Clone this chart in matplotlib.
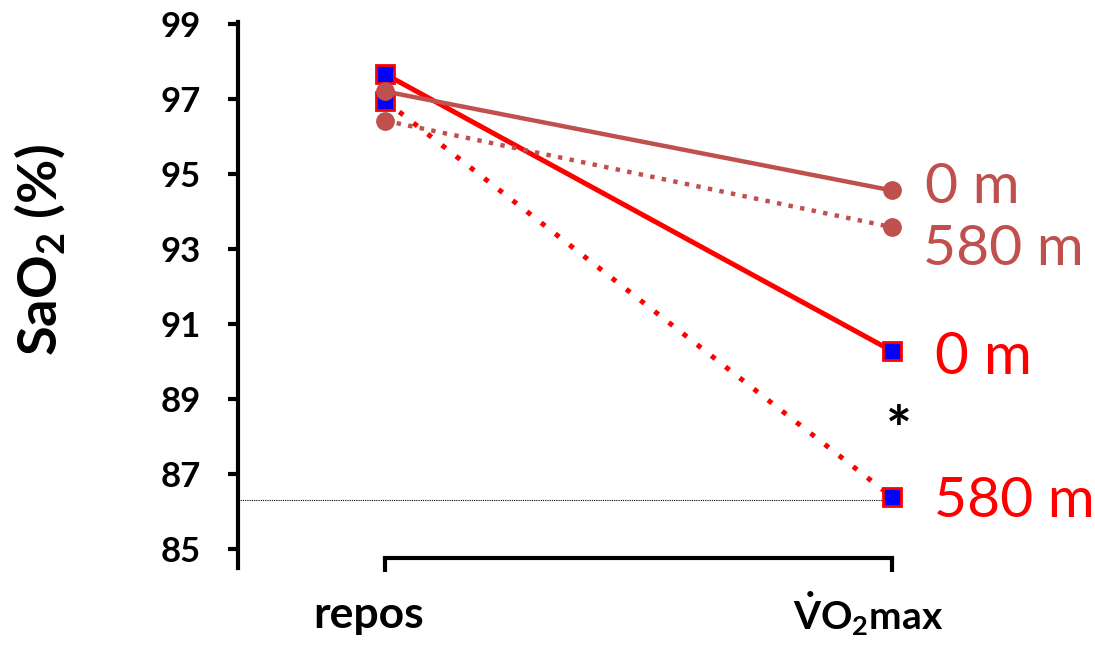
import matplotlib
matplotlib.use("Agg")
import matplotlib.pyplot as plt
from matplotlib.transforms import ScaledTranslation

plt.rcParams['font.family'] = ['Lato', 'DejaVu Sans']
plt.rcParams['mathtext.fontset'] = 'custom'
plt.rcParams['mathtext.rm'] = 'Lato:bold'
plt.rcParams['mathtext.it'] = 'Lato:bold'
plt.rcParams['mathtext.bf'] = 'Lato:bold'

# data
conditions = [0, 1]
xtick_labels = ['repos', r'$\dot{\mathrm{V}}\mathrm{O}_2\mathrm{max}$']
sq_0m = [97.66, 90.28]       # squares, solid
sq_580m = [96.95, 86.39]     # squares, dotted
ci_0m = [97.2, 94.56]        # circles, solid
ci_580m = [96.42, 93.58]     # circles, dotted
ref_level = 86.32
star_value = 88.6
yticks = [85, 87, 89, 91, 93, 95, 97, 99]

RED = '#FF0000'
BROWN = '#C0504D'

fig = plt.figure(figsize=(10.95, 6.45), dpi=100)
ax = fig.add_axes([0.2174, 0.1194, 0.7826, 0.8465])

ax.plot(conditions, sq_0m, color=RED, lw=3.6, marker='s', ms=13,
        mfc='#0000FF', mec=RED, mew=2, zorder=3)
ax.plot(conditions, sq_580m, color=RED, lw=3.6, ls=(0, (1, 2.6)), marker='s',
        ms=13, mfc='#0000FF', mec=RED, mew=2, zorder=3)
ax.plot(conditions, ci_0m, color=BROWN, lw=3.2, marker='o', ms=12.5,
        mfc=BROWN, mec=BROWN, zorder=4)
ax.plot(conditions, ci_580m, color=BROWN, lw=3.2, ls=':', marker='o', ms=12.5,
        mfc=BROWN, mec=BROWN, zorder=4)

ax.plot([-0.29, conditions[1]], [ref_level, ref_level], color='black', lw=0.8,
        ls=(0, (1, 1)), zorder=1)

# end labels (baseline placed at the bottom of the digits)
ax.text(1.065, ci_0m[1] - 0.33, '0 m', color=BROWN, fontsize=41, va='baseline')
ax.text(1.061, ci_580m[1] - 1.0, '580 m', color=BROWN, fontsize=41, va='baseline')
ax.text(1.085, sq_0m[1] - 0.6, '0 m', color=RED, fontsize=42, va='baseline')
ax.text(1.082, sq_580m[1] - 0.54, '580 m', color=RED, fontsize=41, va='baseline')
ax.text(1.014, star_value - 0.5, '*', color='black', fontsize=44,
        fontweight='bold', ha='center', va='center')

ax.set_xlim(-0.29, 1.40)
ax.set_ylim(84.5, 99.05)

ax.spines['top'].set_visible(False)
ax.spines['right'].set_visible(False)
ax.spines['left'].set_linewidth(3)
ax.spines['bottom'].set_linewidth(3)
ax.spines['bottom'].set_bounds(0, 1)
ax.spines['bottom'].set_position(('data', 84.76))

ax.set_yticks(yticks)
ax.set_yticklabels([str(v) for v in yticks], fontsize=25, fontweight='bold')
ax.set_xticks(conditions)
ax.set_xticklabels(xtick_labels, fontweight='bold')
ax.tick_params(axis='y', length=7, width=3, pad=20)
ax.tick_params(axis='x', length=10, width=3, pad=12)

xl = ax.get_xticklabels()
xl[0].set_fontsize(32)
xl[1].set_fontsize(28)
xl[0].set_transform(xl[0].get_transform() +
                    ScaledTranslation(-0.17, -0.06, fig.dpi_scale_trans))
xl[1].set_transform(xl[1].get_transform() +
                    ScaledTranslation(-0.24, 0, fig.dpi_scale_trans))

fig.text(0.036, 0.612, r'SaO$_2$ (%)', fontsize=39, fontweight='bold',
         rotation=90, ha='center', va='center')

fig.savefig('out.png', dpi=100)
